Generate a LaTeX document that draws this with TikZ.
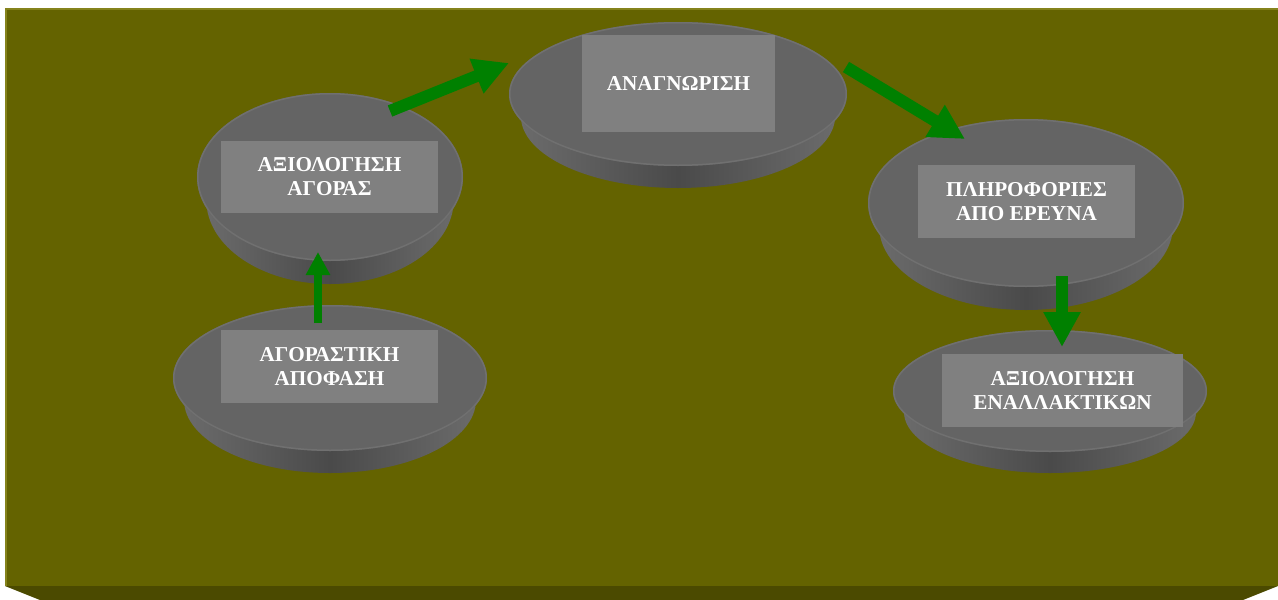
\documentclass[tikz,border=0pt]{standalone}
\usepackage{fontspec}
\setmainfont{Liberation Serif}
\usetikzlibrary{arrows.meta}
\definecolor{olive}{HTML}{646300}
\definecolor{olivedark}{HTML}{4B4A00}
\definecolor{olivelight}{HTML}{85831C}
\definecolor{disctop}{HTML}{646464}
\definecolor{discrim}{HTML}{707070}
\definecolor{sideedge}{HTML}{6B6B6B}
\definecolor{sidemid}{HTML}{4A4A4A}
\definecolor{boxgray}{HTML}{808080}
\definecolor{arrowgreen}{HTML}{008000}
\newcommand{\mydisc}[5]{%
  % #1 cx, #2 cy, #3 rx, #4 ry, #5 depth
  \pgfmathsetmacro{\rxb}{0.93*#3}%
  \shade[left color=sideedge,right color=sideedge,middle color=sidemid]
    (#1,#2+#5) ellipse [x radius=\rxb pt, y radius=#4 pt];
  \shade[left color=sideedge,right color=sideedge,middle color=sidemid]
    (#1-#3,#2) -- (#1-\rxb,#2+#5) -- (#1+\rxb,#2+#5) -- (#1+#3,#2) -- cycle;
  \fill[disctop] (#1,#2) ellipse [x radius=#3 pt, y radius=#4 pt];
  \draw[discrim,line width=1.5pt] (#1,#2) ellipse [x radius=#3 pt-0.75pt, y radius=#4 pt-0.75pt];
}
\tikzset{
  textbox/.style={fill=boxgray,text=white,font=\fontsize{21.2}{24}\selectfont\bfseries,
    align=center,inner sep=0pt,draw=none},
  bigarrow/.style={draw=arrowgreen,line width=12pt,
    -{Triangle[width=35pt,length=35pt]}},
  smallarrow/.style={draw=arrowgreen,line width=8pt,
    -{Triangle[width=23pt,length=23pt]}}
}
\begin{document}
\begin{tikzpicture}[x=1pt,y=-1pt]
\useasboundingbox (0,0) rectangle (1278,600);
\fill[white] (0,0) rectangle (1278,600);
% background slab
\fill[olive] (5,8) rectangle (1278,586);
\fill[olivedark] (5,586) -- (1278,586) -- (1243,600) -- (40,600) -- cycle;
\draw[olivelight,line width=1.5pt] (5.75,586) -- (5.75,8.75) -- (1278,8.75);
% discs
\mydisc{330}{177}{133}{84}{23}
\mydisc{678}{94}{169}{72}{22}
\mydisc{1026}{203}{158}{84}{23}
\mydisc{330}{378}{157}{73}{22}
\mydisc{1050}{391}{157}{61}{21}
% text boxes
\node[textbox,minimum width=217pt,minimum height=72pt] (market) at (329.5,177) {ΑΞΙΟΛΟΓΗΣΗ\\ΑΓΟΡΑΣ};
\node[textbox,minimum width=193pt,minimum height=97pt] (recog) at (678.5,83.5) {ΑΝΑΓΝΩΡΙΣΗ};
\node[textbox,minimum width=217pt,minimum height=73pt] (info) at (1026.5,201.5) {ΠΛΗΡΟΦΟΡΙΕΣ\\ΑΠΟ ΕΡΕΥΝΑ};
\node[textbox,minimum width=217pt,minimum height=73pt] (decision) at (329.5,366.5) {ΑΓΟΡΑΣΤΙΚΗ\\ΑΠΟΦΑΣΗ};
\node[textbox,minimum width=241pt,minimum height=73pt] (altern) at (1062.5,390.5) {ΑΞΙΟΛΟΓΗΣΗ\\ΕΝΑΛΛΑΚΤΙΚΩΝ};
% arrow end points
\coordinate (a1s) at (318,323);
\coordinate (a1e) at (318,252);
\coordinate (a2s) at (390,111);
\coordinate (a2e) at (509,63);
\coordinate (a3s) at (846,67);
\coordinate (a3e) at (965,139);
\coordinate (a4s) at (1062,276);
\coordinate (a4e) at (1062,347);
% arrows
\draw[smallarrow] (a1s) -- (a1e);
\draw[bigarrow] (a2s) -- (a2e);
\draw[bigarrow] (a3s) -- (a3e);
\draw[bigarrow] (a4s) -- (a4e);
\end{tikzpicture}
\end{document}
